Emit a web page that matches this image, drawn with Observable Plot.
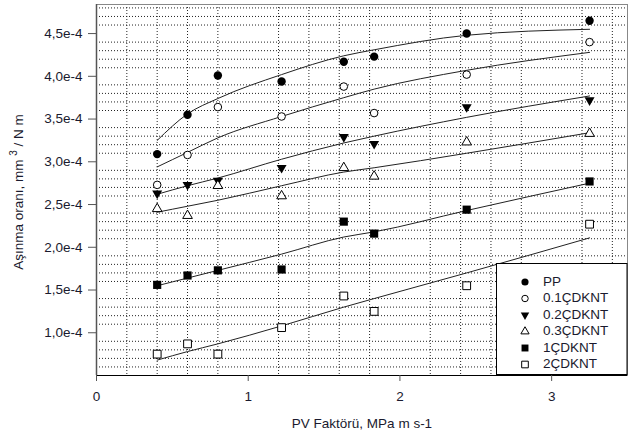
<!DOCTYPE html>
<html><head><meta charset="utf-8">
<script src="https://cdn.jsdelivr.net/npm/d3@7"></script>
<script src="https://cdn.jsdelivr.net/npm/@observablehq/plot@0.6"></script>
<style>
body{margin:0;background:#fff;}
#chart svg{display:block;}
</style>
</head><body><div id="chart"></div>
<script>
// ---- data ----
const pv = [0.4, 0.6, 0.8, 1.22, 1.63, 1.83, 2.44, 3.25];
const seriesNames = ["PP", "0.1ÇDKNT", "0.2ÇDKNT", "0.3ÇDKNT", "1ÇDKNT", "2ÇDKNT"];
const ppRate   = [3.09e-4, 3.55e-4, 4.01e-4, 3.94e-4, 4.17e-4, 4.23e-4, 4.50e-4, 4.65e-4];
const c01Rate  = [2.73e-4, 3.08e-4, 3.64e-4, 3.53e-4, 3.88e-4, 3.57e-4, 4.02e-4, 4.40e-4];
const c02Rate  = [2.63e-4, 2.73e-4, 2.78e-4, 2.93e-4, 3.29e-4, 3.21e-4, 3.64e-4, 3.72e-4];
const c03Rate  = [2.45e-4, 2.37e-4, 2.72e-4, 2.60e-4, 2.93e-4, 2.83e-4, 3.23e-4, 3.33e-4];
const c1Rate   = [1.56e-4, 1.67e-4, 1.73e-4, 1.74e-4, 2.30e-4, 2.16e-4, 2.44e-4, 2.77e-4];
const c2Rate   = [0.75e-4, 0.87e-4, 0.75e-4, 1.06e-4, 1.43e-4, 1.25e-4, 1.55e-4, 2.27e-4];
// fitted curves, read at the same PV values
const ppFit  = [3.25e-4, 3.56e-4, 3.74e-4, 4.02e-4, 4.24e-4, 4.31e-4, 4.48e-4, 4.55e-4];
const c01Fit = [2.94e-4, 3.11e-4, 3.28e-4, 3.53e-4, 3.75e-4, 3.85e-4, 4.07e-4, 4.28e-4];
const c02Fit = [2.62e-4, 2.72e-4, 2.81e-4, 3.03e-4, 3.22e-4, 3.30e-4, 3.52e-4, 3.77e-4];
const c03Fit = [2.41e-4, 2.48e-4, 2.55e-4, 2.72e-4, 2.88e-4, 2.93e-4, 3.10e-4, 3.34e-4];
const c1Fit  = [1.55e-4, 1.64e-4, 1.73e-4, 1.92e-4, 2.12e-4, 2.18e-4, 2.43e-4, 2.75e-4];
const c2Fit  = [0.68e-4, 0.78e-4, 0.87e-4, 1.08e-4, 1.30e-4, 1.40e-4, 1.70e-4, 2.11e-4];
const xTicks = [0, 1, 2, 3];
const yTicks = [1.0e-4, 1.5e-4, 2.0e-4, 2.5e-4, 3.0e-4, 3.5e-4, 4.0e-4, 4.5e-4];
const xLabel = "PV Faktörü, MPa m s-1";
const yLabelMain = "Aşınma oranı, mm ";
const yLabelSup = "3";
const yLabelEnd = " / N m";

// ---- build tables ----
const rates = [ppRate, c01Rate, c02Rate, c03Rate, c1Rate, c2Rate];
const fits = [ppFit, c01Fit, c02Fit, c03Fit, c1Fit, c2Fit];
const points = seriesNames.flatMap((s, i) => pv.map((p, j) => ({pv: p, rate: rates[i][j], series: s})));
const fitRows = seriesNames.flatMap((s, i) => pv.map((p, j) => ({pv: p, rate: fits[i][j], series: s})));

// symbols
const sqrt3 = Math.sqrt(3);
const triDown = {draw(ctx, size) {
  const y = -Math.sqrt(size / (sqrt3 * 3));
  ctx.moveTo(0, -y * 2); ctx.lineTo(-sqrt3 * y, y); ctx.lineTo(sqrt3 * y, y); ctx.closePath();
}};
const triUp = {draw(ctx, size) {
  const y = -Math.sqrt(size / (sqrt3 * 3));
  ctx.moveTo(0, y * 2); ctx.lineTo(-sqrt3 * y, -y); ctx.lineTo(sqrt3 * y, -y); ctx.closePath();
}};
const styles = [
  {symbol: "circle", fill: "#000", stroke: "none", r: 4.2},
  {symbol: "circle", fill: "#fff", stroke: "#000", r: 3.8},
  {symbol: triDown, fill: "#000", stroke: "none", r: 3.7},
  {symbol: triUp, fill: "#fff", stroke: "#000", r: 3.6},
  {symbol: "square", fill: "#000", stroke: "none", r: 4.6},
  {symbol: "square", fill: "#fff", stroke: "#000", r: 4.4}
];

// minor grid positions
const xGrid = d3.range(1, 18).filter(i => i % 5 !== 0).map(i => i * 0.2);
const yGrid = d3.range(6, 49).filter(i => i % 5 !== 0).map(i => i * 1e-5);

const fmtY = d => (d * 1e4).toFixed(1).replace(".", ",") + "e-4";
const FONT = "Liberation Sans, Arial, sans-serif";

const chart = Plot.plot({
  width: 634,
  height: 437,
  marginLeft: 96,
  marginRight: 7,
  marginTop: 4,
  marginBottom: 62,
  style: {fontFamily: FONT, fontSize: "13.5px", color: "#1a1a2e", background: "#fff"},
  x: {domain: [0, 3.5]},
  y: {domain: [0.5e-4, 4.84e-4]},
  marks: [
    Plot.ruleY(yGrid, {stroke: "#222", strokeDasharray: "1,2", strokeWidth: 1}),
    Plot.ruleX(xGrid, {stroke: "#222", strokeDasharray: "1,2", strokeWidth: 1}),
    Plot.frame({stroke: "#888"}),
    Plot.ruleX([0], {stroke: "#555", strokeWidth: 1.5}),
    Plot.ruleY([0.5e-4], {stroke: "#000", strokeWidth: 1.2}),
    Plot.line(fitRows, {x: "pv", y: "rate", z: "series", curve: "monotone-x", stroke: "#222", strokeWidth: 1}),
    ...seriesNames.map((s, i) => Plot.dot(points.filter(d => d.series === s), {
      x: "pv", y: "rate", symbol: styles[i].symbol, r: styles[i].r,
      fill: styles[i].fill, stroke: styles[i].stroke, strokeWidth: 1
    })),
    Plot.axisX({ticks: xTicks, tickSize: 6, tickPadding: 10, tickFormat: d => String(d), label: null, stroke: "#555"}),
    Plot.axisY({ticks: yTicks, tickSize: 8, tickPadding: 6, tickFormat: fmtY, label: null, stroke: "#555"})
  ]
});

document.getElementById("chart").appendChild(chart);

// ---- axis titles & legend (pixel layout) ----
const svg = d3.select(chart);
svg.append("text")
  .attr("x", 362).attr("y", 424)
  .attr("text-anchor", "middle").attr("dominant-baseline", "middle")
  .attr("font-family", FONT).attr("font-size", 13.5).attr("fill", "#1a1a2e")
  .text(xLabel);

const yl = svg.append("text")
  .attr("transform", "translate(23,192) rotate(-90)")
  .attr("text-anchor", "middle")
  .attr("font-family", FONT).attr("font-size", 13.5).attr("fill", "#1a1a2e");
yl.append("tspan").text(yLabelMain);
yl.append("tspan").attr("font-size", 10).attr("dy", -6).text(yLabelSup);
yl.append("tspan").attr("dy", 6).text(yLabelEnd);

const lg = svg.append("g");
lg.append("rect").attr("x", 496.5).attr("y", 263.5).attr("width", 130.5).attr("height", 111)
  .attr("fill", "#fff").attr("stroke", "#000").attr("stroke-width", 1);
seriesNames.forEach((s, i) => {
  const cy = 282 + i * 16.5;
  const st = styles[i];
  const r = st.r * 0.85;
  lg.append("path")
    .attr("d", d3.symbol(st.symbol === "circle" ? d3.symbolCircle : st.symbol === "square" ? d3.symbolSquare : st.symbol, Math.PI * r * r)())
    .attr("transform", `translate(525,${cy})`)
    .attr("fill", st.fill).attr("stroke", st.stroke).attr("stroke-width", 1);
  lg.append("text").attr("x", 543).attr("y", cy)
    .attr("text-anchor", "start").attr("dominant-baseline", "middle")
    .attr("font-family", FONT).attr("font-size", 13.5).attr("fill", "#1a1a2e").text(s);
});
</script>
</body></html>
